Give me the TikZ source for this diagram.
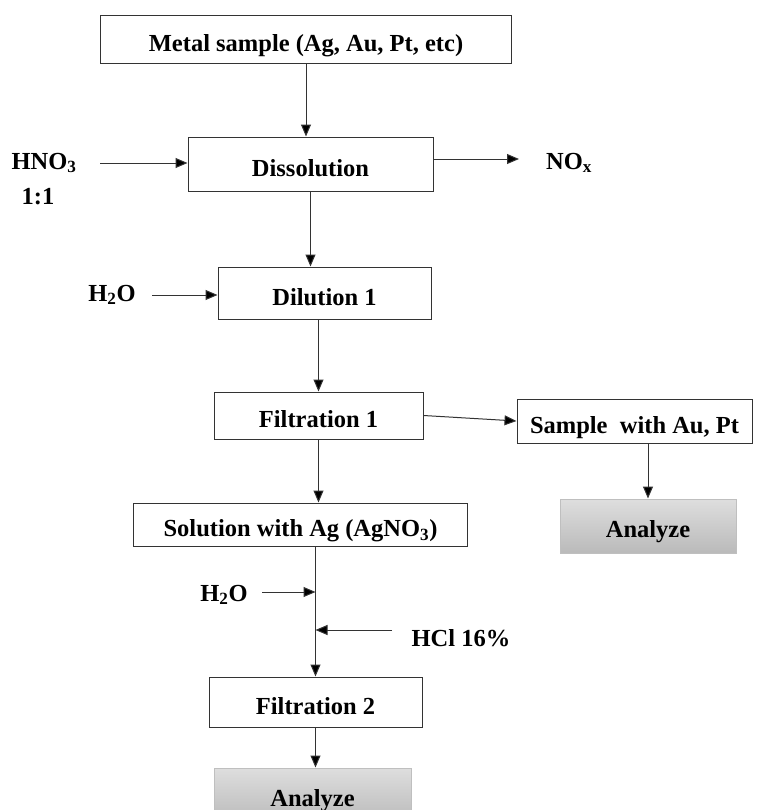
\documentclass[tikz,border=0pt]{standalone}
\usepackage{fontspec}
\setmainfont{Liberation Serif}
\usetikzlibrary{arrows.meta}

\begin{document}
\begin{tikzpicture}[x=1bp,y=-1bp,
  font=\fontsize{24.5bp}{28bp}\selectfont\bfseries,
  box/.style={draw=black!80,line width=1bp,inner sep=0pt,fill=white,text height=24bp,text depth=0bp},
  ana/.style={draw=black!25,line width=1bp,inner sep=0pt,top color=black!13,bottom color=black!27,text height=22bp,text depth=0bp},
  lbl/.style={inner sep=0pt},
  arr/.style={draw=black!80,line width=1bp,-{Triangle[length=12bp,width=10bp,fill=black]}}]
  \clip (0,0) rectangle (768,810);

  % process boxes
  \node [box,minimum width=410bp,minimum height=47bp] (metal) at (306,39.5) {Metal sample (Ag, Au, Pt, etc)};
  \node [box,minimum width=245bp,minimum height=54bp] (dissol) at (310.5,164) {Dissolution};
  \node [box,minimum width=213bp,minimum height=52bp] (dilut) at (324.5,293) {Dilution 1};
  \node [box,minimum width=209bp,minimum height=47bp] (filt1) at (318.5,415.5) {Filtration 1};
  \node [box,minimum width=235bp,minimum height=44bp] (sample) at (634.5,421) {Sample\ \ with Au, Pt};
  \node [ana,minimum width=176bp,minimum height=54bp] (ana1) at (648,526) {Analyze};
  \node [box,minimum width=333bp,minimum height=43bp] (sol) at (300.5,524.5) {Solution with Ag (AgNO\textsubscript{3})};
  \node [box,minimum width=213bp,minimum height=50bp] (filt2) at (315.5,702) {Filtration 2};
  \node [ana,minimum width=197bp,minimum height=54bp] (ana2) at (312.5,795) {Analyze};

  % reagents and products
  \node [lbl] (hno) at (44,163) {HNO\textsubscript{3}};
  \node [lbl] (ratio) at (38,197) {1:1};
  \node [lbl] (nox) at (569,163) {NO\textsubscript{x}};
  \node [lbl] (wat1) at (112,295) {H\textsubscript{2}O};
  \node [lbl] (wat2) at (224,595) {H\textsubscript{2}O};
  \node [lbl] (hcl) at (461,638) {HCl 16\%};

  \coordinate (hnostart) at (100,163);
  \coordinate (noxend) at (519,159);
  \coordinate (wat1start) at (152,295);
  \coordinate (wat2start) at (262,592);
  \coordinate (hclstart) at (392,630);

  % main flow
  \draw [arr] (metal.south) -- (metal.south |- dissol.north);
  \draw [arr] (dissol.south) -- (dissol.south |- dilut.north);
  \draw [arr] (filt1.north |- dilut.south) -- (filt1.north);
  \draw [arr] (filt1.south) -- (filt1.south |- sol.north);
  \draw [arr] (filt1.east) -- (sample.west);
  \draw [arr] (ana1.north |- sample.south) -- (ana1.north);
  \draw [arr] (filt2.north |- sol.south) -- (filt2.north);
  \draw [arr] (filt2.south) -- (filt2.south |- ana2.north);

  % side streams
  \draw [arr] (hnostart) -- (hnostart -| dissol.west);
  \draw [arr] (noxend -| dissol.east) -- (noxend);
  \draw [arr] (wat1start) -- (wat1start -| dilut.west);
  \draw [arr] (wat2start) -- (wat2start -| filt2.north);
  \draw [arr] (hclstart) -- (hclstart -| filt2.north);
\end{tikzpicture}
\end{document}
